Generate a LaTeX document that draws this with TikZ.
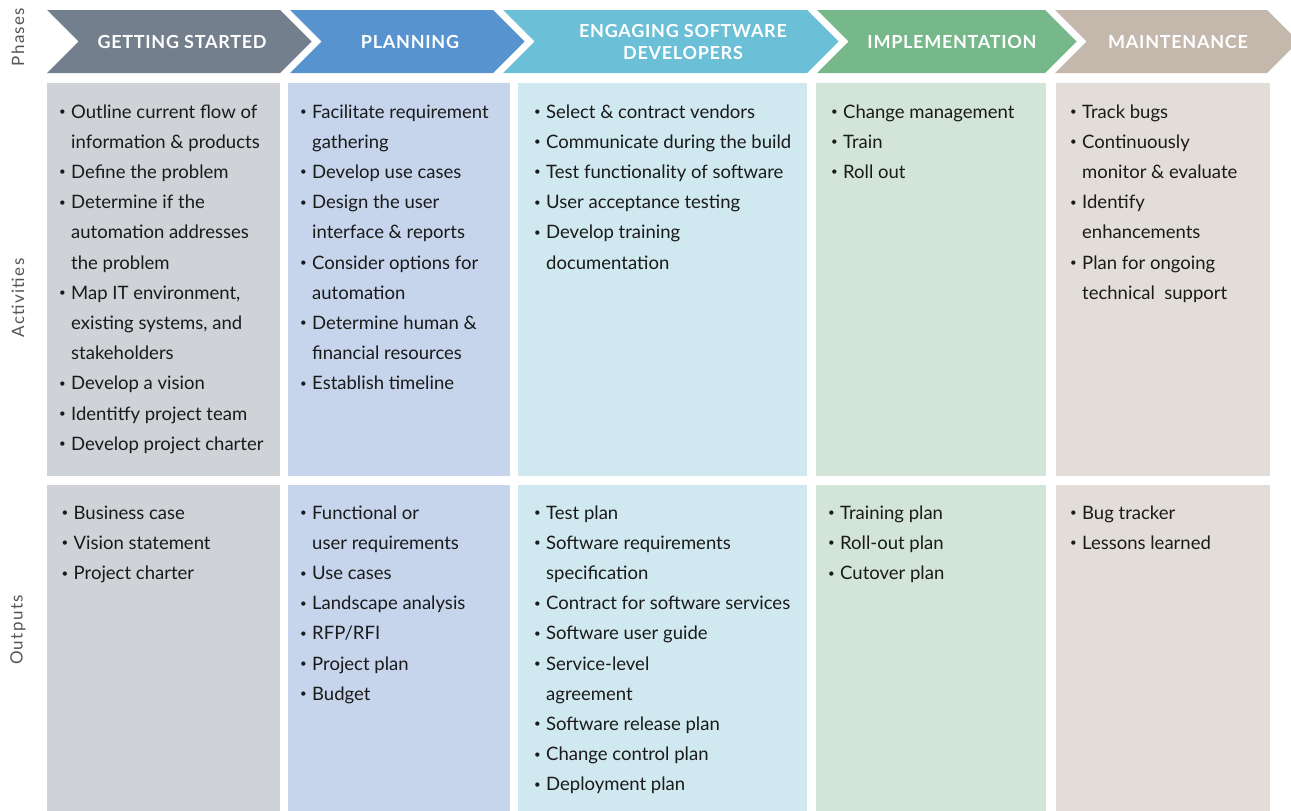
\documentclass[tikz,border=0pt]{standalone}
\usepackage{fontspec}
\usepackage{graphicx}
\setmainfont{Lato}
\newfontfamily\headfont[LetterSpace=4]{Lato}
\newfontfamily\sidefont[LetterSpace=8]{Lato}
\usepackage{array}
\definecolor{hgray}{HTML}{737F8C}
\definecolor{hblue}{HTML}{5693CF}
\definecolor{hcyan}{HTML}{6BBFD7}
\definecolor{hgreen}{HTML}{76B88A}
\definecolor{hbeige}{HTML}{C4B8AD}
\definecolor{lgray}{HTML}{CFD2D6}
\definecolor{lblue}{HTML}{C6D5EC}
\definecolor{lcyan}{HTML}{D0E8EF}
\definecolor{lgreen}{HTML}{D3E5D6}
\definecolor{lbeige}{HTML}{E3DDD7}
\definecolor{txt}{HTML}{1A1A1A}
\definecolor{side}{HTML}{555555}
\newcommand{\cellfont}{\fontsize{18.5}{30.2}\selectfont}
\newcommand{\bu}{\hspace*{0.3pt}\raisebox{0.13em}{\scalebox{0.62}{\textbullet}}}
\newenvironment{items}{\cellfont\begin{tabular}[t]{@{}p{12.5pt}@{}l@{}}}{\end{tabular}}
\begin{document}
\begin{tikzpicture}[x=1pt,y=-1pt,
  head/.style={text=white,font=\headfont\fontsize{18}{21}\selectfont\bfseries,align=center,inner sep=0},
  cell/.style={anchor=base west,inner sep=0,text=txt},
  sidelab/.style={rotate=90,text=side,font=\sidefont\fontsize{17}{19}\selectfont,inner sep=0}]
\useasboundingbox (0,0) rectangle (1291,811);
\clip (0,0) rectangle (1291,811);
% header chevrons
\fill[hgray] (47,10) -- (280,10) -- (311.5,41.5) -- (280,73) -- (47,73) -- (78.5,41.5) -- cycle;
\fill[hblue] (290,10) -- (493,10) -- (524.5,41.5) -- (493,73) -- (290,73) -- (321.5,41.5) -- cycle;
\fill[hcyan] (503,10) -- (807,10) -- (838.5,41.5) -- (807,73) -- (503,73) -- (534.5,41.5) -- cycle;
\fill[hgreen] (817,10) -- (1045,10) -- (1076.5,41.5) -- (1045,73) -- (817,73) -- (848.5,41.5) -- cycle;
\fill[hbeige] (1055,10) -- (1267,10) -- (1298.5,41.5) -- (1267,73) -- (1055,73) -- (1086.5,41.5) -- cycle;
\node[head] (h1) at (182,42) {GETTING STARTED};
\node[head] (h2) at (410,42) {PLANNING};
\node[head] (h3) at (683,42) {ENGAGING SOFTWARE\\[1pt]DEVELOPERS};
\node[head] (h4) at (952,42) {IMPLEMENTATION};
\node[head] (h5) at (1178,42) {MAINTENANCE};
% side labels
\node[sidelab] (lp) at (18,37) {Phases};
\node[sidelab] (la) at (18,298) {Activities};
\node[sidelab] (lo) at (18,630) {Outputs};
% boxes
\fill[lgray]  (47,83) rectangle (280,476);
\fill[lblue]  (288,83) rectangle (510,476);
\fill[lcyan]  (518,83) rectangle (807,476);
\fill[lgreen] (816,83) rectangle (1046,476);
\fill[lbeige] (1056,83) rectangle (1270,476);
\fill[lgray]  (47,485) rectangle (280,811);
\fill[lblue]  (288,485) rectangle (510,811);
\fill[lcyan]  (518,485) rectangle (807,811);
\fill[lgreen] (816,485) rectangle (1046,811);
\fill[lbeige] (1056,485) rectangle (1270,811);
% activities
\node[cell] (a1) at (58.5,118) {\begin{items}
\bu & Outline current flow of\\
& information \& products\\
\bu & Define the problem\\
\bu & Determine if the\\
& automation addresses\\
& the problem\\
\bu & Map IT environment,\\
& existing systems, and\\
& stakeholders\\
\bu & Develop a vision\\
\bu & Identitfy project team\\
\bu & Develop project charter
\end{items}};
\node[cell] (a2) at (299.5,118) {\begin{items}
\bu & Facilitate requirement\\
& gathering\\
\bu & Develop use cases\\
\bu & Design the user\\
& interface \& reports\\
\bu & Consider options for\\
& automation\\
\bu & Determine human \&\\
& financial resources\\
\bu & Establish timeline
\end{items}};
\node[cell] (a3) at (533.5,118) {\begin{items}
\bu & Select \& contract vendors\\
\bu & Communicate during the build\\
\bu & Test functionality of software\\
\bu & User acceptance testing\\
\bu & Develop training\\
& documentation
\end{items}};
\node[cell] (a4) at (830.5,118) {\begin{items}
\bu & Change management\\
\bu & Train\\
\bu & Roll out
\end{items}};
\node[cell] (a5) at (1069.5,118) {\begin{items}
\bu & Track bugs\\
\bu & Continuously\\
& monitor \& evaluate\\
\bu & Identify\\
& enhancements\\
\bu & Plan for ongoing\\
& technical~ support
\end{items}};
% outputs
\node[cell] (o1) at (61,519) {\begin{items}
\bu & Business case\\
\bu & Vision statement\\
\bu & Project charter
\end{items}};
\node[cell] (o2) at (299.5,519) {\begin{items}
\bu & Functional or\\
& user requirements\\
\bu & Use cases\\
\bu & Landscape analysis\\
\bu & RFP/RFI\\
\bu & Project plan\\
\bu & Budget
\end{items}};
\node[cell] (o3) at (533.5,519) {\begin{items}
\bu & Test plan\\
\bu & Software requirements\\
& specification\\
\bu & Contract for software services\\
\bu & Software user guide\\
\bu & Service-level\\
& agreement\\
\bu & Software release plan\\
\bu & Change control plan\\
\bu & Deployment plan
\end{items}};
\node[cell] (o4) at (827.5,519) {\begin{items}
\bu & Training plan\\
\bu & Roll-out plan\\
\bu & Cutover plan
\end{items}};
\node[cell] (o5) at (1069.5,519) {\begin{items}
\bu & Bug tracker\\
\bu & Lessons learned
\end{items}};
\end{tikzpicture}
\end{document}
